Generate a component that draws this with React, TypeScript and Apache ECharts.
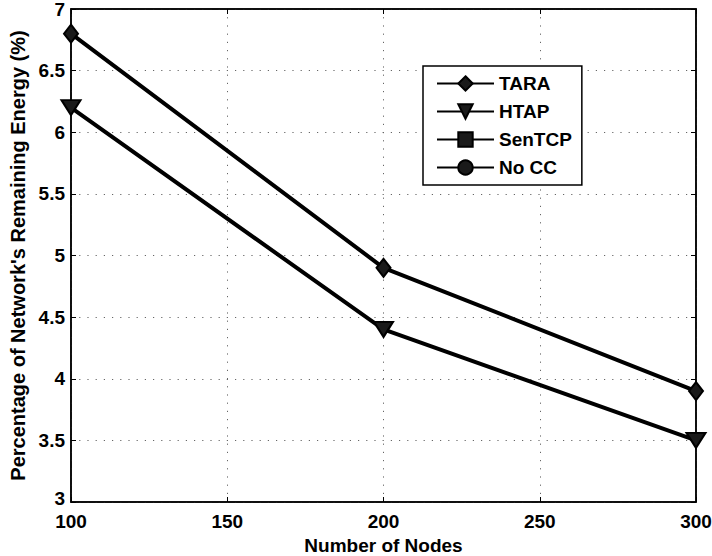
import React, { useEffect, useRef } from "react";
import * as echarts from "echarts";

const xTicks = [100, 150, 200, 250, 300];
const nodes = [100, 200, 300];
const tara = [6.8, 4.9, 3.9];
const htap = [6.2, 4.4, 3.5];
const senTcp: number[] = [];
const noCc: number[] = [];
const seriesNames = ["TARA", "HTAP", "SenTCP", "No CC"];

const FONT = "Arial, 'Liberation Sans', Helvetica, sans-serif";

export default function App() {
  const ref = useRef<HTMLDivElement>(null);
  useEffect(() => {
    if (!ref.current) return;
    const chart = echarts.init(ref.current, null, { renderer: "svg" });
    const pair = (vals: number[]) => vals.map((v, i) => [nodes[i], v]);
    const mk = (name: string, vals: number[], symbol: string, rotate: number, size: number[] | number) => ({
      name,
      type: "line",
      data: pair(vals),
      symbol,
      symbolSize: size,
      symbolRotate: rotate,
      showAllSymbol: true,
      lineStyle: { color: "#000", width: 4 },
      itemStyle: { color: "#1a1a1a", borderColor: "#000", borderWidth: 2 },
      emphasis: { disabled: true },
      z: 5,
    });
    const dotted = { show: true, lineStyle: { type: [1.2, 7], color: "#666", width: 1 } };
    const labelStyle = { color: "#000", fontWeight: "bold", fontSize: 19, fontFamily: FONT };
    chart.setOption({
      animation: false,
      backgroundColor: "#fff",
      textStyle: { fontFamily: FONT },
      grid: {
        left: 71, top: 9, right: 16, bottom: 54,
        containLabel: false, outerBoundsMode: "none",
        show: true, borderColor: "#000", borderWidth: 1.5,
      },
      legend: {
        orient: "vertical",
        left: 423,
        top: 66,
        data: seriesNames,
        backgroundColor: "#fff",
        borderColor: "#000",
        borderWidth: 1.5,
        borderRadius: 0,
        padding: [8, 10, 8, 13],
        itemWidth: 57,
        itemHeight: 18,
        itemGap: 9,
        textStyle: { color: "#000", fontWeight: "bold", fontSize: 19, fontFamily: FONT },
      },
      xAxis: [
        {
          type: "value",
          min: 100,
          max: 300,
          interval: 50,
          name: "Number of Nodes",
          nameLocation: "middle",
          nameGap: 32,
          nameTextStyle: labelStyle,
          axisLine: { show: true, lineStyle: { color: "#000", width: 1.5 } },
          axisTick: { show: true, inside: true, length: 5, lineStyle: { color: "#000" } },
          axisLabel: { ...labelStyle, margin: 12, lineHeight: 15, formatter: (v: number) => (xTicks.includes(v) ? String(v) : "") },
          splitLine: dotted,
        },
        {
          type: "value",
          position: "top",
          min: 100,
          max: 300,
          interval: 50,
          axisLine: { show: true, lineStyle: { color: "#000", width: 1.5 } },
          axisTick: { show: true, inside: true, length: 5, lineStyle: { color: "#000" } },
          axisLabel: { show: false },
          splitLine: { show: false },
        },
      ],
      yAxis: [
        {
          type: "value",
          min: 3,
          max: 7,
          interval: 0.5,
          name: "Percentage of Network's Remaining Energy (%)",
          nameLocation: "middle",
          nameGap: 42,
          nameTextStyle: { ...labelStyle, fontSize: 20 },
          axisLine: { show: true, lineStyle: { color: "#000", width: 1.5 } },
          axisTick: { show: true, inside: true, length: 5, lineStyle: { color: "#000" } },
          axisLabel: {
            ...labelStyle,
            margin: 6,
            lineHeight: 15,
            formatter: (v: number) => (v === 3 ? "{lo|3}" : String(v)),
            rich: { lo: { ...labelStyle, lineHeight: 15, padding: [0, 0, 7, 0] } },
          },
          splitLine: dotted,
        },
        {
          type: "value",
          position: "right",
          min: 3,
          max: 7,
          interval: 0.5,
          axisLine: { show: true, lineStyle: { color: "#000", width: 1.5 } },
          axisTick: { show: true, inside: true, length: 5, lineStyle: { color: "#000" } },
          axisLabel: { show: false },
          splitLine: { show: false },
        },
      ],
      series: [
        mk("TARA", tara, "diamond", 0, [14, 18]),
        mk("HTAP", htap, "triangle", 180, [19, 15]),
        mk("SenTCP", senTcp, "rect", 0, 11),
        mk("No CC", noCc, "circle", 0, 12),
      ],
    });
    return () => chart.dispose();
  }, []);
  return <div ref={ref} style={{ width: 712, height: 556, position: "absolute", left: 0, top: 0 }} />;
}
